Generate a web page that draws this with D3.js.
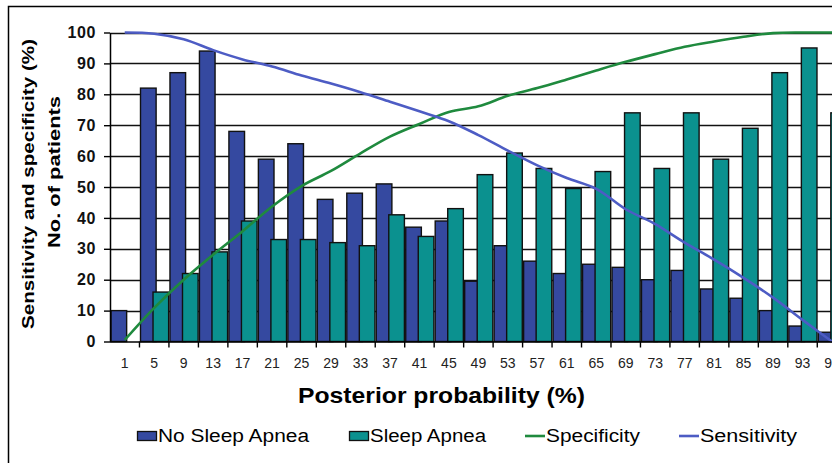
<!DOCTYPE html>
<html>
<head>
<meta charset="utf-8">
<script src="https://cdn.jsdelivr.net/npm/d3@7"></script>
<style>
body { margin: 0; background: #fff; }
svg { display: block; font-family: "Liberation Sans", Arial, sans-serif; }
</style>
</head>
<body>
<div id="chartDiv"></div>
<script>
// posterior probability classes (%)
var categories = ["1", "5", "9", "13", "17", "21", "25", "29", "33", "37", "41", "45", "49",
	"53", "57", "61", "65", "69", "73", "77", "81", "85", "89", "93", "97"];

// no. of patients per class
var noApnea = [10, 82, 87, 94, 68, 59, 64, 46, 48, 51, 37, 39, 19.5,
	31, 26, 22, 25, 24, 20, 23, 17, 14, 10, 5, 3];
var apnea = [0, 16, 22, 29, 39, 33, 33, 32, 31, 41, 34, 43, 54,
	61, 56, 49.5, 55, 74, 56, 74, 59, 69, 87, 95, 74];

// sensitivity / specificity (%)
var specificity = [0.5, 10.9, 20, 28.1, 35.7, 43.7, 50.3, 55.2, 60.9, 66.3, 70.4, 74.3, 76.1,
	79.5, 82, 84.8, 87.7, 90.5, 93, 95.4, 97.1, 98.6, 99.8, 100, 100];
var sensitivity = [100, 99.6, 97.8, 94.3, 91.3, 89, 86.1, 83.5, 80.7, 77.6, 74.5, 71.3, 66.8,
	61.8, 57, 52.9, 49.4, 42.8, 38, 32, 26.5, 20.6, 14.2, 7, 0];

var yTicks = [0, 10, 20, 30, 40, 50, 60, 70, 80, 90, 100];

var legendItems = [
	{name: "No Sleep Apnea", type: "bar", color: "#3549a0"},
	{name: "Sleep Apnea", type: "bar", color: "#0b918f"},
	{name: "Specificity", type: "line", color: "#1f8a3e"},
	{name: "Sensitivity", type: "line", color: "#4d5cc4"}
];

var svgWidth = 832, svgHeight = 463;
var plotLeft = 110, bandW = 29.47;
var yBottom = 341.5, yTop = 32.5;

var svg = d3.select("#chartDiv").append("svg")
	.attr("width", svgWidth)
	.attr("height", svgHeight);

var x = d3.scaleBand()
	.domain(categories)
	.range([plotLeft, plotLeft + bandW * categories.length])
	.padding(0);

var y = d3.scaleLinear()
	.domain([0, 100])
	.range([yBottom, yTop]);

// outer chart frame (cut off at right and bottom)
svg.append("path")
	.attr("d", "M8.5," + (svgHeight + 2) + "V6.5H" + (svgWidth + 2))
	.attr("fill", "none")
	.attr("stroke", "#000")
	.attr("stroke-width", 1.5);

// gridlines
svg.append("g")
	.selectAll("line")
	.data(yTicks.filter(function (d) { return d > 0; }))
	.enter().append("line")
	.attr("x1", plotLeft)
	.attr("x2", x.range()[1])
	.attr("y1", function (d) { return Math.round(y(d)) + 0.5; })
	.attr("y2", function (d) { return Math.round(y(d)) + 0.5; })
	.attr("stroke", "#111")
	.attr("stroke-width", 1.3);

// bars (second series overlaps the first a little, as in the original)
var bw = x.bandwidth();
function drawBars(values, offset, color) {
	var rows = values.map(function (v, i) { return {cat: categories[i], v: v}; })
		.filter(function (d) { return d.v > 0; });
	svg.append("g")
		.selectAll("rect")
		.data(rows)
		.enter().append("rect")
		.attr("x", function (d) { return x(d.cat) + bw * offset; })
		.attr("width", bw * 0.53)
		.attr("y", function (d) { return y(d.v); })
		.attr("height", function (d) { return y(0) - y(d.v); })
		.attr("fill", color)
		.attr("stroke", "#111")
		.attr("stroke-width", 1.4);
}
drawBars(noApnea, 0.035, legendItems[0].color);
drawBars(apnea, 0.46, legendItems[1].color);

// lines
function drawLine(values, color) {
	var line = d3.line()
		.x(function (d, i) { return x(categories[i]) + bw / 2; })
		.y(function (d) { return y(d); })
		.curve(d3.curveCatmullRom.alpha(0.5));
	svg.append("path")
		.datum(values)
		.attr("d", line)
		.attr("fill", "none")
		.attr("stroke", color)
		.attr("stroke-width", 2.6);
}
drawLine(specificity, legendItems[2].color);
drawLine(sensitivity, legendItems[3].color);

// y axis
var yAxis = svg.append("g")
	.attr("transform", "translate(" + plotLeft + ",0)")
	.call(d3.axisLeft(y).tickValues(yTicks).tickSize(6).tickPadding(8).tickSizeOuter(0));
yAxis.select(".domain").attr("stroke", "#000").attr("stroke-width", 1.5);
yAxis.selectAll(".tick line").attr("stroke", "#000").attr("stroke-width", 1.4);
yAxis.selectAll(".tick text")
	.attr("fill", "#111")
	.attr("font-size", "16px")
	.attr("font-weight", "bold")
	.attr("letter-spacing", "0.6px")
	.attr("font-family", "'Liberation Sans', Arial, sans-serif");

// x axis: labels centred in band, ticks on band edges
var xAxis = svg.append("g")
	.attr("transform", "translate(0," + yBottom + ")")
	.call(d3.axisBottom(x).tickSize(0).tickPadding(17));
xAxis.select(".domain").remove();
xAxis.selectAll(".tick text")
	.attr("fill", "#222")
	.attr("font-size", "14px")
	.attr("font-family", "'Liberation Sans', Arial, sans-serif");
svg.append("line")
	.attr("x1", plotLeft)
	.attr("x2", x.range()[1])
	.attr("y1", yBottom + 0.5)
	.attr("y2", yBottom + 0.5)
	.attr("stroke", "#000")
	.attr("stroke-width", 1.5);
svg.append("g")
	.selectAll("line")
	.data(categories)
	.enter().append("line")
	.attr("x1", function (d) { return x(d) + bw; })
	.attr("x2", function (d) { return x(d) + bw; })
	.attr("y1", yBottom)
	.attr("y2", yBottom + 6)
	.attr("stroke", "#000")
	.attr("stroke-width", 1.4);

// axis titles
svg.append("text")
	.attr("transform", "translate(34,184) rotate(-90)")
	.attr("text-anchor", "middle")
	.attr("font-size", "17px")
	.attr("font-weight", "bold")
	.attr("textLength", 290)
	.attr("lengthAdjust", "spacingAndGlyphs")
	.text("Sensitivity and specificity (%)");
svg.append("text")
	.attr("transform", "translate(60,172) rotate(-90)")
	.attr("text-anchor", "middle")
	.attr("font-size", "17px")
	.attr("font-weight", "bold")
	.attr("textLength", 152)
	.attr("lengthAdjust", "spacingAndGlyphs")
	.text("No. of patients");

svg.append("text")
	.attr("x", 298)
	.attr("y", 403)
	.attr("font-size", "22px")
	.attr("font-weight", "bold")
	.attr("textLength", 287)
	.attr("lengthAdjust", "spacingAndGlyphs")
	.text("Posterior probability (%)");

// legend
var legendX = [137, 349, 525, 679];
var legendLen = [151, 116, 94, 97];
var legend = svg.append("g");
legendItems.forEach(function (item, i) {
	var lx = legendX[i];
	if (item.type == "bar") {
		legend.append("rect")
			.attr("x", lx + 0.5)
			.attr("y", 431.5)
			.attr("width", 19)
			.attr("height", 9)
			.attr("fill", item.color)
			.attr("stroke", "#111")
			.attr("stroke-width", 1.3);
	} else {
		legend.append("line")
			.attr("x1", lx)
			.attr("x2", lx + 20)
			.attr("y1", 436)
			.attr("y2", 436)
			.attr("stroke", item.color)
			.attr("stroke-width", 2.6);
	}
	legend.append("text")
		.attr("x", lx + 21)
		.attr("y", 442)
		.attr("font-size", "18px")
		.attr("textLength", legendLen[i])
		.attr("lengthAdjust", "spacingAndGlyphs")
		.text(item.name);
});
</script>
</body>
</html>
